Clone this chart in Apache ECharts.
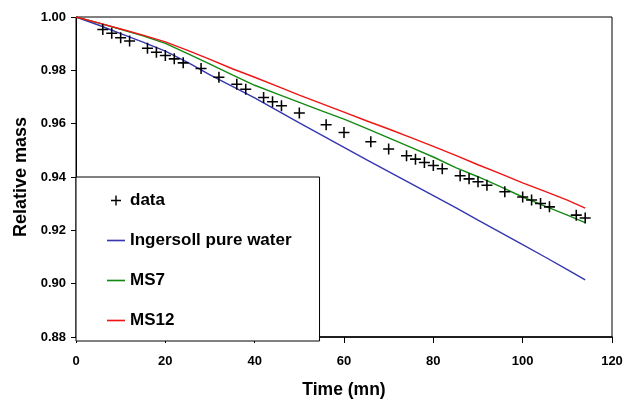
<!DOCTYPE html>
<html>
<head>
<meta charset="utf-8">
<script src="https://cdn.jsdelivr.net/npm/echarts@6/dist/echarts.min.js"></script>
<style>
html,body{margin:0;padding:0;background:#fff;}
#chart{width:631px;height:404px;}
</style>
</head>
<body>
<div id="chart"></div>
<script>
// Measured data (time in minutes, relative mass)
const dataTime = [6, 8, 10, 12, 16, 18, 20, 22, 24, 28, 32, 36, 38, 42, 44, 46, 50, 56, 60, 66, 70, 74, 76, 78, 80, 82, 86, 88, 90, 92, 96, 100, 102, 104, 106, 112, 114];
const dataMass = [0.9953, 0.9939, 0.9922, 0.9910, 0.9883, 0.9868, 0.9856, 0.9843, 0.9828, 0.9807, 0.9774, 0.9748, 0.9729, 0.9698, 0.9682, 0.9667, 0.9640, 0.9596, 0.9567, 0.9532, 0.9505, 0.9480, 0.9467, 0.9454, 0.9443, 0.9431, 0.9405, 0.9393, 0.9382, 0.9369, 0.9345, 0.9325, 0.9314, 0.9301, 0.9288, 0.9257, 0.9246];

// Model curves
const modelTime = [0, 5, 10, 15, 20, 25, 30, 35, 40, 45, 50, 55, 60, 65, 70, 75, 80, 85, 90, 95, 100, 105, 110, 114];
const ingersoll = [1.0000, 0.9970, 0.9938, 0.9906, 0.9872, 0.9830, 0.9783, 0.9740, 0.9697, 0.9650, 0.9603, 0.9557, 0.9511, 0.9465, 0.9420, 0.9375, 0.9330, 0.9285, 0.9238, 0.9192, 0.9146, 0.9100, 0.9053, 0.9014];
const ms7 = [1.0000, 0.9978, 0.9954, 0.9929, 0.9901, 0.9863, 0.9823, 0.9783, 0.9744, 0.9712, 0.9680, 0.9648, 0.9617, 0.9582, 0.9547, 0.9511, 0.9475, 0.9435, 0.9401, 0.9364, 0.9325, 0.9291, 0.9257, 0.9229];
const ms12 = [1.0000, 0.9978, 0.9955, 0.9932, 0.9907, 0.9875, 0.9841, 0.9806, 0.9774, 0.9741, 0.9707, 0.9675, 0.9643, 0.9611, 0.9580, 0.9548, 0.9515, 0.9481, 0.9446, 0.9413, 0.9378, 0.9346, 0.9313, 0.9283];

const seriesNames = ['data', 'Ingersoll pure water', 'MS7', 'MS12'];
const lineColors = ['#3636b0', '#138a13', '#ee1515'];

const pair = (xs, ys) => xs.map((x, i) => [x, ys[i]]);
const plusPath = 'path://M0,43 H100 V57 H0 Z M43,0 H57 V100 H43 Z';
const lineIcon = 'path://M0,0 H120 V11 H0 Z';
const FONT = '"Liberation Sans", Arial, sans-serif';

const chart = echarts.init(document.getElementById('chart'), null, {renderer: 'canvas'});
chart.setOption({
  animation: false,
  backgroundColor: '#ffffff',
  textStyle: {fontFamily: FONT},
  grid: {left: 76, right: 19, top: 17, bottom: 64, show: true, borderColor: '#000', borderWidth: 1, backgroundColor: 'transparent'},
  xAxis: {
    type: 'value', min: 0, max: 120, interval: 20,
    name: 'Time (mn)', nameLocation: 'middle', nameGap: 44,
    nameTextStyle: {fontSize: 17.5, fontWeight: 'bold', color: '#000', fontFamily: FONT},
    axisLine: {lineStyle: {color: '#000', width: 1.5}},
    axisTick: {show: true, inside: false, length: 6, lineStyle: {color: '#000'}},
    axisLabel: {fontSize: 13, fontWeight: 'bold', color: '#000', margin: 18, fontFamily: FONT},
    splitLine: {show: false}
  },
  yAxis: {
    type: 'value', min: 0.88, max: 1.00, interval: 0.02,
    name: 'Relative mass', nameLocation: 'middle', nameGap: 46,
    nameTextStyle: {fontSize: 18, fontWeight: 'bold', color: '#000', fontFamily: FONT},
    axisLine: {show: true, lineStyle: {color: '#000', width: 1}},
    axisTick: {show: true, inside: false, length: 5, lineStyle: {color: '#000'}},
    axisLabel: {fontSize: 13, fontWeight: 'bold', color: '#000', margin: 10, fontFamily: FONT,
      formatter: v => v.toFixed(2)},
    splitLine: {show: false}
  },
  legend: {
    orient: 'vertical', left: 76, top: 177,
    padding: [15, 28, 12, 31],
    backgroundColor: '#fff', borderColor: '#000', borderWidth: 1,
    itemWidth: 18, itemHeight: 10, itemGap: 23,
    textStyle: {fontSize: 17, fontWeight: 'bold', color: '#000', fontFamily: FONT},
    data: [
      {name: seriesNames[0], icon: plusPath, itemStyle: {color: '#000'}},
      {name: seriesNames[1], icon: lineIcon, itemStyle: {color: lineColors[0]}},
      {name: seriesNames[2], icon: lineIcon, itemStyle: {color: lineColors[1]}},
      {name: seriesNames[3], icon: lineIcon, itemStyle: {color: lineColors[2]}}
    ]
  },
  series: [
    {name: seriesNames[1], type: 'line', data: pair(modelTime, ingersoll), symbol: 'none', smooth: false,
      lineStyle: {color: lineColors[0], width: 1.4}, itemStyle: {color: lineColors[0]}},
    {name: seriesNames[2], type: 'line', data: pair(modelTime, ms7), symbol: 'none',
      lineStyle: {color: lineColors[1], width: 1.4}, itemStyle: {color: lineColors[1]}},
    {name: seriesNames[3], type: 'line', data: pair(modelTime, ms12), symbol: 'none',
      lineStyle: {color: lineColors[2], width: 1.4}, itemStyle: {color: lineColors[2]}},
    {name: seriesNames[0], type: 'scatter', data: pair(dataTime, dataMass), symbol: plusPath, symbolSize: 11,
      itemStyle: {color: '#000', opacity: 1}, z: 5}
  ]
});
</script>
</body>
</html>
